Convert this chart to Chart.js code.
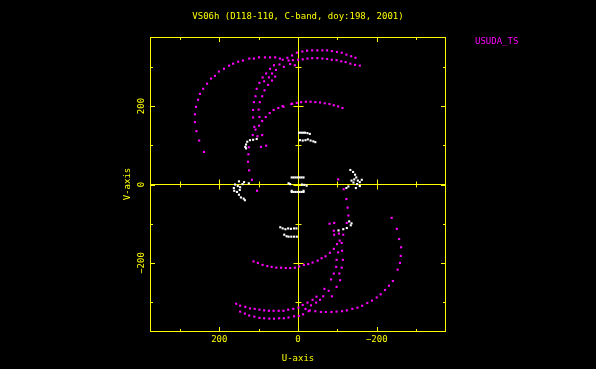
<!DOCTYPE html>
<html>
<head>
<meta charset="utf-8">
<script src="https://cdn.jsdelivr.net/npm/chart.js@4.4.1/dist/chart.umd.min.js"></script>
<style>
html, body { margin: 0; padding: 0; background: #000; }
</style>
</head>
<body>
<canvas id="uvplot" width="596" height="369"></canvas>
<script>
// (u, v) samples, in the plot's units; U grows to the left
var usudaPts = [
  [239,83],[251,112],[258,136],[262,159],[262,179],[259,198],[254,216],[249,231],[241,244],[231,257],
  [221,270],[211,277],[201,288],[188,295],[175,303],[165,308],[152,313],[140,316],[124,321],[112,321],
  [99,324],[84,324],[71,324],[58,324],[46,321],[27,323],[15,329],[3,336],
  [-11,339],[-23,341],[-36,342],[-49,342],[-62,342],[-74,342],[-86,340],[-99,338],[-111,336],[-123,331],[-135,327],[-146,323],
  [13,317],[0,318],[-12,319],[-24,321],[-36,322],[-49,322],[-62,321],[-74,320],[-86,318],[-98,317],
  [-110,314],[-121,312],[-133,308],[-145,305],[-157,303],
  [24,316],[39,318],[47,306],[20,307],[8,304],[36,300],
  [61,304],[71,295],[56,292],[81,283],[66,283],[90,273],[74,273],[58,275],[98,259],[86,263],[66,265],[76,254],
  [105,244],[85,240],[108,225],[91,225],[112,210],[97,210],[114,190],[100,191],[114,171],[98,172],[91,162],
  [111,147],[99,150],[108,140],[115,126],[103,123],[91,126],[125,95],[94,96],[81,99],[126,77],[127,58],
  [124,36],[117,12],[104,-16],
  [15,206],[39,200],[50,195],[62,190],[72,182],[82,172],[37,198],[17,205],[3,208],[-8,210],[-20,211],
  [-32,211],[-44,210],[-56,209],[-68,207],[-80,205],[-91,202],[-102,199],[-113,195],
  [-102,13],[-116,-12],
  [-238,-85],[-251,-113],[-257,-139],[-262,-160],[-261,-182],[-259,-200],[-253,-217],[-241,-246],[-231,-258],
  [-221,-269],[-210,-280],[-200,-288],[-188,-296],[-176,-302],[-163,-309],[-151,-314],[-138,-317],[-124,-321],
  [-112,-323],[-98,-324],[-85,-325],[-71,-325],[-58,-325],[-44,-323],[-30,-321],[-19,-317],[-27,-323],[-13,-331],
  [-2,-335],[10,-336],[24,-339],[36,-341],[48,-341],[61,-342],[73,-342],[86,-341],[98,-340],[111,-337],
  [124,-334],[135,-329],[147,-324],
  [157,-304],[147,-309],[134,-312],[122,-316],[110,-317],[98,-319],[86,-321],[74,-322],[62,-322],[49,-322],
  [37,-322],[25,-319],[12,-317],[-1,-314],
  [-12,-307],[-24,-301],[-33,-308],[-37,-294],[-46,-301],[-47,-286],[-56,-294],[-64,-285],[-86,-285],[-67,-266],
  [-78,-271],[-98,-261],[-84,-242],[-107,-244],[-91,-227],[-105,-227],[-97,-210],[-111,-212],
  [-123,-37],[-126,-59],[-128,-79],[-124,-98],[-92,-98],[-80,-100],[-91,-118],[-104,-125],[-92,-128],[-115,-128],
  [-99,-152],[-106,-143],[-111,-149],[-102,-173],[-112,-169],[-91,-164],[-81,-174],[-98,-192],[-114,-192],
  [-70,-183],[-60,-188],[-50,-194],[-37,-199],[-26,-203],[-15,-205],
  [113,-196],[102,-200],[90,-205],[78,-208],[67,-210],[55,-212],[43,-212],[31,-213],[20,-213],[8,-212],[-3,-209]
];

var otherPts = [
  [134,96],[132,102],[129,109],[122,113],[114,114],[105,116],[132,92],
  [-130,-94],[-136,-99],[-134,-104],[-124,-111],[-115,-114],[-103,-117],
  [-3,132],[-8,132],[-13,132],[-18,132],[-24,131],[-30,129],
  [-5,113],[-12,112],[-19,113],[-25,115],[-32,112],[-39,110],[-44,108],
  [45,-109],[39,-112],[32,-114],[25,-112],[18,-113],[10,-112],[4,-112],
  [35,-128],[29,-132],[24,-133],[17,-133],[10,-133],[3,-133],
  [16,18],[11,18],[6,18],[1,18],[-4,18],[-9,18],[-14,18],
  [24,3],[20,1],[-10,0],[-16,-1],[-22,-3],
  [16,-19],[11,-19],[6,-19],[1,-19],[-4,-19],[-9,-19],[-14,-19],[16,-16],[-14,-16],
  [150,8],[160,0],[153,-4],[147,-7],[163,-9],[141,1],[148,-14],[155,-19],[150,-26],[145,-33],
  [138,-36],[135,-40],[162,-16],[125,3],[137,6],
  [-133,37],[-140,32],[-145,25],[-148,18],[-143,13],[-152,10],[-157,6],[-162,12],[-136,10],[-141,5],
  [-150,1],[-128,-5],[-123,-9],[-147,-9],[-157,-4]
];

var majorTicks = [200, 0, -200];
var minorTicks = [300, 100, -100, -300];
var tickLabels = ['200', '0', '\u2212200'];
var axisLimit = 376;

var titleText = 'VS06h (D118-110, C-band, doy:198, 2001)';
var legendText = 'USUDA_TS';

var yellow = '#ffff00';
var magenta = '#ff00ff';
var font = '9px "DejaVu Sans Mono"';

function toXY(pts) {
  return pts.map(function (p) { return { x: p[0], y: p[1] }; });
}

// pgplot style frame, zero lines, ticks and labels
var pgFrame = {
  id: 'pgFrame',
  beforeDraw: function (chart) {
    var c = chart.ctx;
    c.save();
    c.fillStyle = '#000';
    c.fillRect(0, 0, chart.width, chart.height);
    c.restore();
  },
  beforeDatasetsDraw: function (chart) {
    var c = chart.ctx, a = chart.chartArea;
    var xs = chart.scales.x, ys = chart.scales.y;
    var x0 = Math.floor(xs.getPixelForValue(0)) + 0.5;
    var y0 = Math.floor(ys.getPixelForValue(0)) + 0.5;
    c.save();
    c.strokeStyle = yellow;
    c.lineWidth = 1;
    c.beginPath();
    c.moveTo(a.left, y0); c.lineTo(a.right, y0);
    c.moveTo(x0, a.top); c.lineTo(x0, a.bottom);
    var all = majorTicks.concat(minorTicks);
    all.forEach(function (v) {
      var big = majorTicks.indexOf(v) >= 0;
      var L = big ? 5 : 3;
      var px = Math.round(xs.getPixelForValue(v)) + 0.5;
      var py = Math.round(ys.getPixelForValue(v)) + 0.5;
      c.moveTo(px, a.top); c.lineTo(px, a.top + L);
      c.moveTo(px, a.bottom); c.lineTo(px, a.bottom - L);
      c.moveTo(px, y0 - L); c.lineTo(px, y0 + L);
      c.moveTo(a.left, py); c.lineTo(a.left + L, py);
      c.moveTo(a.right, py); c.lineTo(a.right - L, py);
      c.moveTo(x0 - L, py); c.lineTo(x0 + L, py);
    });
    c.stroke();
    c.strokeRect(a.left + 0.5, a.top + 0.5, a.right - a.left - 1, a.bottom - a.top - 1);

    c.font = font;
    c.fillStyle = yellow;
    c.textAlign = 'center';
    c.textBaseline = 'middle';
    c.fillText(titleText, 298, 17);
    majorTicks.forEach(function (v, i) {
      c.fillText(tickLabels[i], xs.getPixelForValue(v), 340);
    });
    c.fillText('U-axis', 298, 358.5);
    majorTicks.forEach(function (v, i) {
      c.save();
      c.translate(141.5, ys.getPixelForValue(v));
      c.rotate(-Math.PI / 2);
      c.fillText(tickLabels[i], 0, 0);
      c.restore();
    });
    c.save();
    c.translate(128, 184);
    c.rotate(-Math.PI / 2);
    c.fillText('V-axis', 0, 0);
    c.restore();

    c.fillStyle = magenta;
    c.textAlign = 'left';
    c.fillText(legendText, 475, 42);
    c.restore();
  }
};

var ctx = document.getElementById('uvplot');
var uvChart = new Chart(ctx, {
  type: 'scatter',
  data: {
    datasets: [{
      label: legendText,
      data: toXY(usudaPts),
      backgroundColor: magenta,
      borderWidth: 0,
      pointStyle: 'rect',
      pointRadius: 1.5
    }, {
      label: 'other',
      data: toXY(otherPts),
      backgroundColor: '#ffffff',
      borderWidth: 0,
      pointStyle: 'rect',
      pointRadius: 1.5
    }]
  },
  options: {
    responsive: false,
    animation: false,
    devicePixelRatio: 1,
    layout: { autoPadding: false, padding: { left: 150, top: 37, right: 150, bottom: 37 } },
    scales: {
      x: { type: 'linear', min: -axisLimit, max: axisLimit, reverse: true, display: false },
      y: { type: 'linear', min: -axisLimit, max: axisLimit, display: false }
    },
    plugins: {
      legend: { display: false },
      tooltip: { enabled: false }
    }
  },
  plugins: [pgFrame]
});
</script>
</body>
</html>
